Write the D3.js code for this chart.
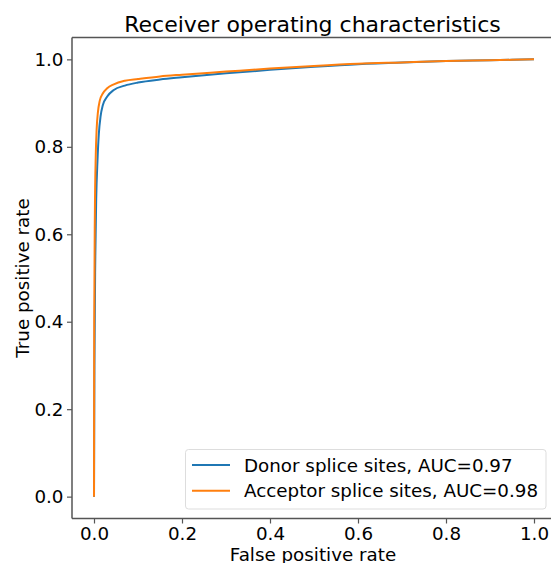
<!DOCTYPE html>
<html><head><meta charset="utf-8">
<script src="https://cdn.jsdelivr.net/npm/d3@7"></script>
<style>body{margin:0;background:#fff}svg{display:block}text{font-family:"DejaVu Sans",sans-serif}</style>
</head><body>
<svg id="c" width="551" height="563"></svg>
<script>
const donorFpr = [0,0.001,0.003,0.005,0.008,0.011,0.015,0.02,0.03,0.045,0.07,0.1,0.15,0.2,0.3,0.4,0.5,0.6,0.7,0.8,0.9,1];
const donorTpr = [0,0.3,0.55,0.68,0.77,0.83,0.87,0.895,0.915,0.93,0.94,0.947,0.954,0.959,0.968,0.976,0.983,0.989,0.993,0.996,0.998,1];
const accFpr = [0,0.0005,0.002,0.004,0.006,0.009,0.013,0.02,0.03,0.045,0.07,0.1,0.15,0.2,0.3,0.4,0.5,0.6,0.7,0.8,0.9,1];
const accTpr = [0,0.4,0.65,0.78,0.84,0.88,0.905,0.922,0.934,0.943,0.951,0.955,0.961,0.965,0.972,0.979,0.985,0.99,0.993,0.996,0.998,1];
const seriesNames = ["Donor splice sites, AUC=0.97","Acceptor splice sites, AUC=0.98"];
const colors = ["#1f77b4","#ff7f0e"];
const ticks = [0,0.2,0.4,0.6,0.8,1.0];

const svg = d3.select("#c");
const L = 72, R = 556, T = 37.5, B = 518.5;
const x = d3.scaleLinear().domain([-0.05,1.05]).range([L,R]);
const y = d3.scaleLinear().domain([-0.05,1.05]).range([B,T]);

const series = [
  donorFpr.map((f,i)=>[f,donorTpr[i]]),
  accFpr.map((f,i)=>[f,accTpr[i]])
];
const line = d3.line().x(d=>x(d[0])).y(d=>y(d[1])).curve(d3.curveMonotoneX);
series.forEach((s,i)=>{
  svg.append("path").attr("d",line(s)).attr("fill","none")
    .attr("stroke",colors[i]).attr("stroke-width",2).attr("stroke-linejoin","round");
});

const fs = 18.3;
const xa = svg.append("g").attr("transform",`translate(0,${B})`)
  .call(d3.axisBottom(x).tickValues(ticks).tickFormat(d3.format(".1f")).tickSizeOuter(0).tickSize(5).tickPadding(3.5));
const ya = svg.append("g").attr("transform",`translate(${L},0)`)
  .call(d3.axisLeft(y).tickValues(ticks).tickFormat(d3.format(".1f")).tickSizeOuter(0).tickSize(5).tickPadding(3.5));
[xa,ya].forEach(a=>{
  a.select(".domain").remove();
  a.selectAll(".tick line").attr("stroke","#555").attr("stroke-width",1.2);
  a.selectAll(".tick text").attr("font-size",fs).attr("fill","#000").style("font-family","DejaVu Sans");
});
// spines
[[L,T,L,B],[L,B,R,B],[L,T,R,T],[R,T,R,B]].forEach(s=>{
  svg.append("line").attr("x1",s[0]).attr("y1",s[1]).attr("x2",s[2]).attr("y2",s[3]).attr("stroke","#555").attr("stroke-width",1.5);
});

svg.append("text").attr("x",(L+R)/2-1).attr("y",560.5).attr("text-anchor","middle").attr("font-size",fs).text("False positive rate");
svg.append("text").attr("transform",`translate(28.5,${(T+B)/2}) rotate(-90)`).attr("text-anchor","middle").attr("font-size",fs).text("True positive rate");
svg.append("text").attr("x",312.5).attr("y",31.5).attr("text-anchor","middle").attr("font-size",22).text("Receiver operating characteristics");

// legend
const lg = svg.append("g");
lg.append("rect").attr("x",185.5).attr("y",449.5).attr("width",360.5).attr("height",59.5).attr("rx",3)
  .attr("fill","#fff").attr("fill-opacity",0.8).attr("stroke","#ddd").attr("stroke-width",1);
seriesNames.forEach((n,i)=>{
  const yy = 465 + i*25.7;
  lg.append("line").attr("x1",192).attr("x2",230).attr("y1",yy).attr("y2",yy).attr("stroke",colors[i]).attr("stroke-width",2);
  lg.append("text").attr("x",244).attr("y",yy).attr("dy","0.36em").attr("font-size",fs).text(n);
});
</script>
</body></html>
